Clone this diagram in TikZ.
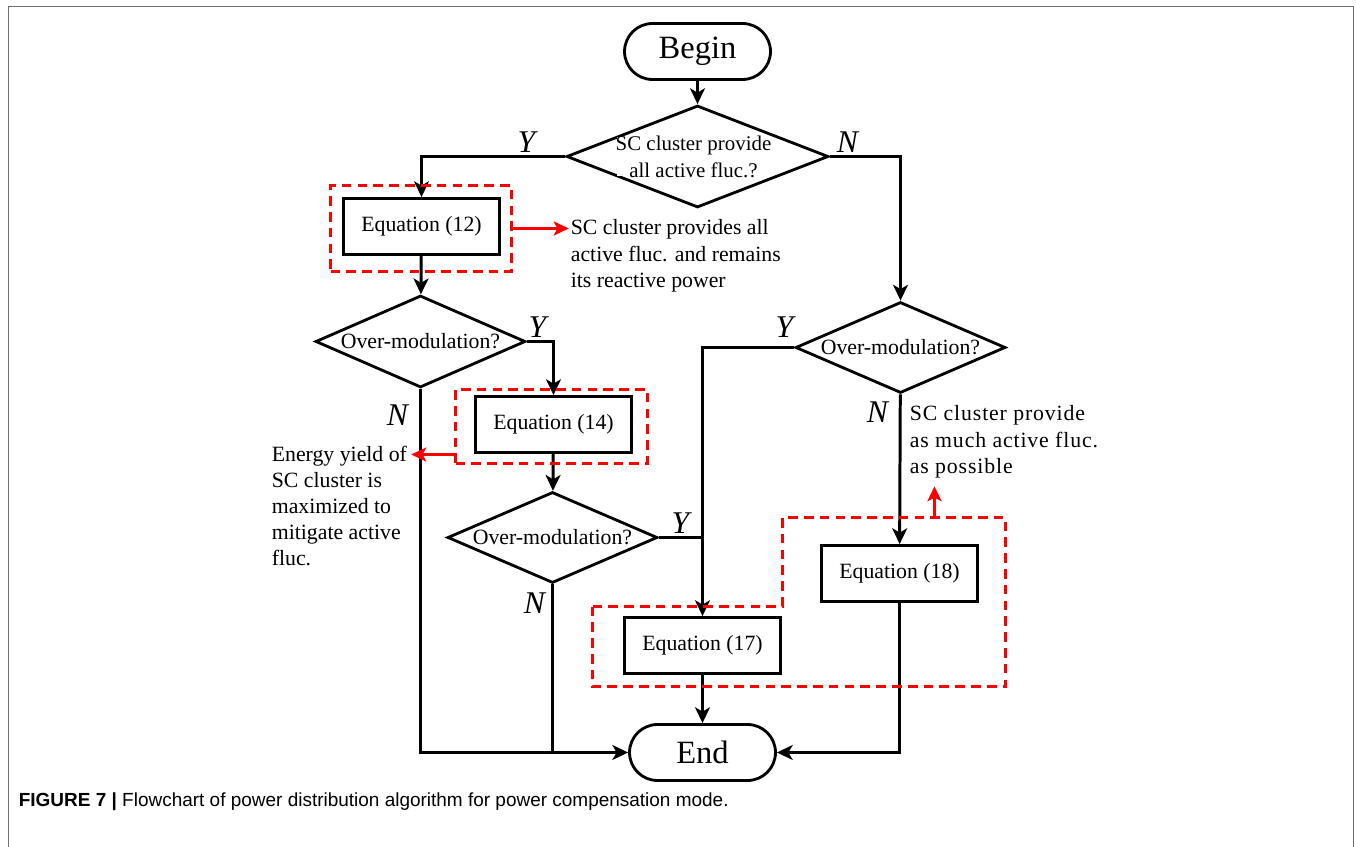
\documentclass[tikz,border=0pt]{standalone}
\usepackage{fontspec}
\setmainfont{Liberation Serif}
\newfontfamily\capfont{Liberation Sans}
\usetikzlibrary{arrows.meta,shapes.geometric}
\definecolor{framegray}{RGB}{112,112,112}
\tikzset{
    terminal/.style={
    rectangle,rounded corners=0.56cm,draw=black,line width=1.6pt,
    minimum width=2.92cm,minimum height=1.12cm,font=\fontsize{18.5}{22}\selectfont
    },
    process/.style={
    rectangle,draw=black,line width=1.6pt,minimum width=3.12cm,minimum height=1.12cm,
    font=\fontsize{12.4}{15}\selectfont
    },
    decision/.style={
    diamond,draw=black,line width=1.6pt,inner sep=0pt,minimum width=4.2cm,minimum height=1.82cm
    },
    qtext/.style={
    inner sep=0pt,align=center,font=\fontsize{12.4}{15}\selectfont
    },
    note/.style={
    anchor=north west,inner sep=0pt,align=left,font=\fontsize{12.4}{14.9}\selectfont
    },
    yn/.style={
    inner sep=0pt,font=\fontsize{18}{20}\selectfont\itshape
    },
    flow/.style={
    -{Stealth[length=9pt,width=8.5pt,inset=2.5pt]},line width=1.7pt
    },
    wire/.style={
    line width=1.7pt
    },
    rbox/.style={
    draw=red,line width=1.5pt,dash pattern=on 5.5pt off 3.5pt
    },
    rflow/.style={
    -{Stealth[length=8.5pt,width=8pt,inset=2pt]},draw=red,line width=1.5pt,shorten >=1pt
    },
}

\begin{document}
\begin{tikzpicture}[x=0.02cm,y=-0.02cm]
  \useasboundingbox (-0.5,-0.5) rectangle (1355.5,846.5);
  \draw[framegray,line width=1.1pt] (8,847) -- (8,6) -- (1353,6) -- (1353,847);

  % main chart
  \node[terminal] (BEGIN) at (697,51) {Begin};
  \node[decision,minimum width=5.24cm,minimum height=2.04cm] (Q1) at (697,156) {};
  \node[qtext,fill=white,inner sep=-1pt,font=\fontsize{11.9}{15.3}\selectfont] (Q1T) at (693,156) {SC cluster provide\\all active fluc.?};
  \node[process] (EQ12) at (421,226) {Equation (12)};
  \node[decision,minimum height=1.84cm] (Q2) at (420,341) {};
  \node[qtext] (Q2T) at (Q2) {Over-modulation?};
  \node[process] (EQ14) at (553,424) {Equation (14)};
  \node[decision] (Q4) at (552,537) {};
  \node[qtext] (Q4T) at (Q4) {Over-modulation?};
  \node[decision] (Q3) at (900,347) {};
  \node[qtext] (Q3T) at (Q3) {Over-modulation?};
  \node[process] (EQ18) at (899,573) {Equation (18)};
  \node[process] (EQ17) at (702,645) {Equation (17)};
  \node[terminal] (END) at (702,752) {End};

  % branch labels
  \node[yn] (Y1) at (526,142) {Y};
  \node[yn] (N1) at (847,142) {N};
  \node[yn] (Y2) at (537,327) {Y};
  \node[yn] (N2) at (397,415) {N};
  \node[yn] (Y3) at (784,327) {Y};
  \node[yn] (N3) at (877,412) {N};
  \node[yn] (Y4) at (680,523) {Y};
  \node[yn] (N4) at (534,603) {N};

  \draw[flow] (BEGIN) -- (Q1);
  \draw[flow] (Q1.west) -| (EQ12);
  \draw[flow] (Q1.east) -| (Q3);
  \draw[flow] (EQ12) -- (Q2);
  \draw[flow] (Q2.east) -| (EQ14);
  \draw[flow] (EQ14) -- (Q4);
  \draw[flow] (Q3.west) -| (EQ17);
  \draw[wire] (Q4.east) -- (Q4.east -| EQ17);
  \draw[flow] (Q3) -- (EQ18);
  \draw[flow] (EQ17) -- (END);
  \draw[flow] (Q2.south) |- (END.west);
  \draw[wire] (Q4.south) -- (Q4.south |- END.west);
  \draw[flow] (EQ18) |- (END.east);

  % highlighted parts and notes
  \node[rbox,minimum width=3.62cm,minimum height=1.72cm] (RB1) at (420.5,228) {};
  \node[rbox,minimum width=3.84cm,minimum height=1.48cm] (RB2) at (551,426) {};
  \draw[rbox] (592,606) -- (782,606) -- (782,517) coordinate (RB3C) -- (1005,517) -- (1005,686) -- (592,686) -- cycle;

  \node[note] (NOTE1) at (570,219) {SC cluster provides all\\active fluc. and remains\\its reactive power};
  \node[note] (NOTE2) at (271,445) {Energy yield of\\SC cluster is\\maximized to\\mitigate active\\fluc.};
  \node[note,font=\fontsize{12.4}{14.9}\selectfont\addfontfeature{LetterSpace=4}] (NOTE3) at (909,405) {SC cluster provide\\as much active fluc.\\as possible};
  \coordinate (T2) at (409,454);
  \coordinate (T3) at (934,484);
  \draw[rflow] (RB1.east) -- (RB1.east -| NOTE1.west);
  \draw[rflow] (RB2.west |- T2) -- (T2);
  \draw[rflow] (T3 |- RB3C) -- (T3);

  \node[anchor=base west,inner sep=0pt,font=\capfont\fontsize{10.8}{13}\selectfont] (CAP) at (18,806)
    {\textbf{FIGURE 7 |} Flowchart of power distribution algorithm for power compensation mode.};
\end{tikzpicture}
\end{document}
